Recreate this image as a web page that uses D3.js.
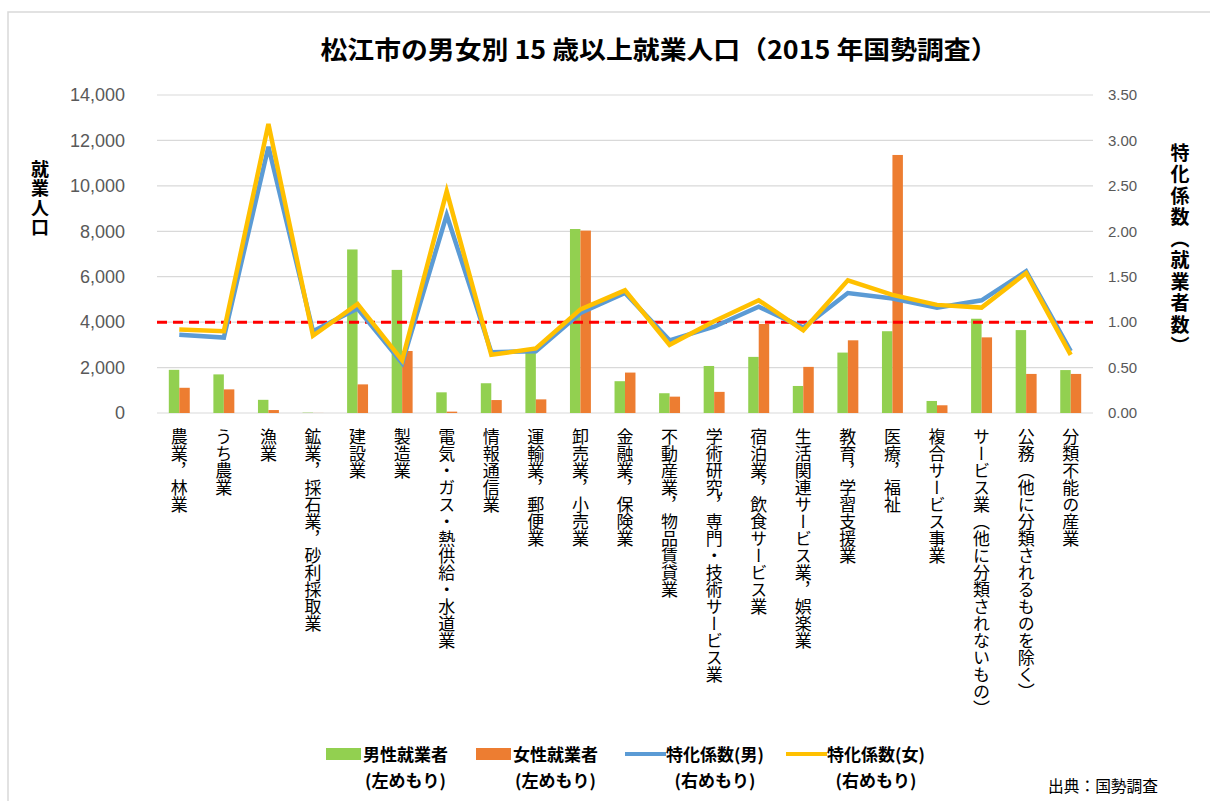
<!DOCTYPE html>
<html>
<head>
<meta charset="utf-8">
<script src="https://cdn.jsdelivr.net/npm/d3@7"></script>
<style>
  body { margin: 0; background: #fff; }
  text { font-family: "Noto Sans CJK JP", "Noto Sans", sans-serif; }
  .tick-l, .tick-r { font-family: "Liberation Sans", Arial, sans-serif; fill: #595959; }
</style>
</head>
<body>
<script>
// 産業分類
var categories = [
	'農業，林業', 'うち農業', '漁業', '鉱業，採石業，砂利採取業', '建設業', '製造業',
	'電気・ガス・熱供給・水道業', '情報通信業', '運輸業，郵便業', '卸売業，小売業',
	'金融業，保険業', '不動産業，物品賃貸業', '学術研究，専門・技術サービス業',
	'宿泊業，飲食サービス業', '生活関連サービス業，娯楽業', '教育，学習支援業',
	'医療，福祉', '複合サービス事業', 'サービス業（他に分類されないもの）',
	'公務（他に分類されるものを除く）', '分類不能の産業'
];

// 就業者数（左めもり）
var maleWorkers = [1900, 1700, 580, 15, 7200, 6300, 910, 1310, 2650, 8100, 1400, 870, 2070, 2470, 1190, 2660, 3600, 530, 4150, 3650, 1890];
var femaleWorkers = [1110, 1040, 130, 3, 1260, 2730, 60, 570, 600, 8030, 1780, 720, 930, 3920, 2030, 3200, 11360, 340, 3330, 1720, 1720];

// 特化係数（右めもり）
var ratioMale = [0.86, 0.83, 2.93, 0.90, 1.15, 0.55, 2.18, 0.67, 0.68, 1.10, 1.32, 0.80, 0.95, 1.17, 0.94, 1.32, 1.26, 1.16, 1.24, 1.56, 0.68];
var ratioFemale = [0.92, 0.90, 3.18, 0.85, 1.20, 0.58, 2.44, 0.64, 0.71, 1.14, 1.35, 0.75, 1.01, 1.24, 0.91, 1.46, 1.30, 1.19, 1.16, 1.54, 0.64];

var leftTicks = [0, 2000, 4000, 6000, 8000, 10000, 12000, 14000];
var rightTicks = [0, 0.5, 1, 1.5, 2, 2.5, 3, 3.5];
var baseRatio = 1.0;

var legendItems = [
	{ name: '男性就業者', sub: '(左めもり)', type: 'bar', color: '#92D050' },
	{ name: '女性就業者', sub: '(左めもり)', type: 'bar', color: '#ED7D31' },
	{ name: '特化係数(男)', sub: '(右めもり)', type: 'line', color: '#5B9BD5' },
	{ name: '特化係数(女)', sub: '(右めもり)', type: 'line', color: '#FFC000' }
];

const W = 1210, H = 801;
const plot = { left: 157, right: 1093, top: 95, bottom: 413 };

const svg = d3.select("body").append("svg")
	.attr("width", W)
	.attr("height", H);

// 外枠
svg.append("rect")
	.attr("x", 8).attr("y", 12)
	.attr("width", 1220).attr("height", 820)
	.attr("fill", "#fff")
	.attr("stroke", "#d9d9d9")
	.attr("stroke-width", 1.5);

const x0 = d3.scaleBand()
	.domain(categories)
	.range([plot.left, plot.right])
	.paddingInner(0.53)
	.paddingOuter(0.265);

const x1 = d3.scaleBand()
	.domain(['m', 'f'])
	.range([0, x0.bandwidth()]);

const yL = d3.scaleLinear().domain([0, 14000]).range([plot.bottom, plot.top]);
const yR = d3.scaleLinear().domain([0, 3.5]).range([plot.bottom, plot.top]);

// grid
svg.append("g")
	.selectAll("line")
	.data(leftTicks)
	.enter()
	.append("line")
	.attr("x1", plot.left).attr("x2", plot.right)
	.attr("y1", d => yL(d)).attr("y2", d => yL(d))
	.attr("stroke", "#d9d9d9")
	.attr("stroke-width", 1.2);

// left axis
const axL = svg.append("g")
	.attr("transform", "translate(" + (plot.left - 29) + ",0)")
	.call(d3.axisLeft(yL).tickValues(leftTicks).tickSize(0).tickFormat(d3.format(",")));
axL.select(".domain").remove();
axL.selectAll("text").attr("class", "tick-l").attr("font-size", 18).attr("dx", 0);

// right axis
const axR = svg.append("g")
	.attr("transform", "translate(" + (plot.right + 15) + ",0)")
	.call(d3.axisRight(yR).tickValues(rightTicks).tickSize(0).tickFormat(d3.format(".2f")));
axR.select(".domain").remove();
axR.selectAll("text").attr("class", "tick-r").attr("font-size", 15).attr("x", 0);

// bars
const groups = svg.append("g")
	.selectAll("g")
	.data(categories)
	.enter()
	.append("g")
	.attr("transform", d => "translate(" + x0(d) + ",0)");

groups.append("rect")
	.attr("x", x1('m'))
	.attr("width", x1.bandwidth())
	.attr("y", (d, i) => yL(maleWorkers[i]))
	.attr("height", (d, i) => yL(0) - yL(maleWorkers[i]))
	.attr("fill", "#92D050");

groups.append("rect")
	.attr("x", x1('f'))
	.attr("width", x1.bandwidth())
	.attr("y", (d, i) => yL(femaleWorkers[i]))
	.attr("height", (d, i) => yL(0) - yL(femaleWorkers[i]))
	.attr("fill", "#ED7D31");

// 基準線 1.00
svg.append("line")
	.attr("x1", plot.left).attr("x2", plot.right)
	.attr("y1", yR(baseRatio)).attr("y2", yR(baseRatio))
	.attr("stroke", "#FF0000")
	.attr("stroke-width", 3)
	.attr("stroke-dasharray", "10,6");

// lines
const cx = (d) => x0(d) + x0.bandwidth() / 2;
const line = d3.line()
	.x(d => cx(d.c))
	.y(d => yR(d.v));

[[ratioMale, '#5B9BD5'], [ratioFemale, '#FFC000']].forEach(function (s) {
	svg.append("path")
		.datum(categories.map((c, i) => ({ c: c, v: s[0][i] })))
		.attr("fill", "none")
		.attr("stroke", s[1])
		.attr("stroke-width", 4.5)
		.attr("stroke-linejoin", "miter")
		.attr("d", line);
});

// category labels (縦書き)
svg.append("g")
	.selectAll("text")
	.data(categories)
	.enter()
	.append("text")
	.attr("x", d => cx(d))
	.attr("y", 428)
	.attr("font-size", 17)
	.style("writing-mode", "vertical-rl")
	.attr("fill", "#000")
	.text(d => d);

// title
svg.append("text")
	.attr("x", 659)
	.attr("y", 59)
	.attr("text-anchor", "middle")
	.attr("font-size", 25)
	.attr("font-weight", "bold")
	.attr("textLength", 677)
	.attr("lengthAdjust", "spacingAndGlyphs")
	.text("松江市の男女別 15 歳以上就業人口（2015 年国勢調査）");

// axis titles
svg.append("text")
	.attr("x", 40).attr("y", 160)
	.attr("font-size", 18)
	.attr("font-weight", "bold")
	.style("letter-spacing", "1.5px")
	.style("writing-mode", "vertical-rl")
	.text("就業人口");

svg.append("text")
	.attr("x", 1180).attr("y", 143)
	.attr("font-size", 19)
	.attr("font-weight", "bold")
	.style("letter-spacing", "2.5px")
	.style("writing-mode", "vertical-rl")
	.text("特化係数（就業者数）");

// legend
const legendX = [326, 476, 625, 786];
const legend = svg.append("g")
	.selectAll("g")
	.data(legendItems)
	.enter()
	.append("g")
	.attr("transform", (d, i) => "translate(" + legendX[i] + ",0)");

legend.append("rect")
	.attr("x", 0)
	.attr("y", d => d.type === 'bar' ? 748 : 752)
	.attr("width", d => d.type === 'bar' ? 35 : 41)
	.attr("height", d => d.type === 'bar' ? 12 : 4)
	.attr("fill", d => d.color);

legend.append("text")
	.attr("class", "lg-name")
	.attr("x", d => d.type === 'bar' ? 37 : 41)
	.attr("y", 761)
	.attr("font-size", 17)
	.attr("font-weight", "bold")
	.text(d => d.name);

legend.each(function (d) {
	const g = d3.select(this);
	const t = g.select(".lg-name");
	const w = t.node().getComputedTextLength();
	g.append("text")
		.attr("x", +t.attr("x") + w / 2)
		.attr("y", 787)
		.attr("text-anchor", "middle")
		.attr("font-size", 17)
		.attr("font-weight", "bold")
		.text(d.sub);
});

// source
svg.append("text")
	.attr("x", 1048)
	.attr("y", 792)
	.attr("font-size", 16)
	.attr("textLength", 110)
	.attr("lengthAdjust", "spacingAndGlyphs")
	.text("出典：国勢調査");
</script>
</body>
</html>
